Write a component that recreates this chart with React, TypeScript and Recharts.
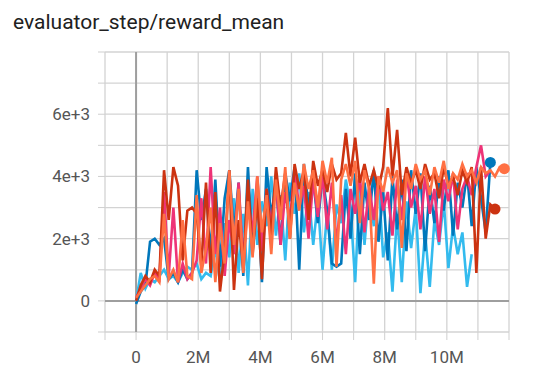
import { CartesianGrid, Line, LineChart, ReferenceLine, XAxis, YAxis } from "recharts";

// training steps shared by the runs (every 150k)
const steps = [
  0, 150000, 300000, 450000, 600000, 750000, 900000, 1050000, 1200000, 1350000,
  1500000, 1650000, 1800000, 1950000, 2100000, 2250000, 2400000, 2550000, 2700000, 2850000,
  3000000, 3150000, 3300000, 3450000, 3600000, 3750000, 3900000, 4050000, 4200000, 4350000,
  4500000, 4650000, 4800000, 4950000, 5100000, 5250000, 5400000, 5550000, 5700000, 5850000,
  6000000, 6150000, 6300000, 6450000, 6600000, 6750000, 6900000, 7050000, 7200000, 7350000,
  7500000, 7650000, 7800000, 7950000, 8100000, 8250000, 8400000, 8550000, 8700000, 8850000,
  9000000, 9150000, 9300000, 9450000, 9600000, 9750000, 9900000, 10050000, 10200000, 10350000,
  10500000, 10650000, 10800000, 10950000, 11100000, 11250000, 11400000, 11550000, 11700000, 11850000,
];

const runLightBlue = [
  0, 900, 400, 700, 600, 800, 1000, 700, 800, 600,
  900, 1100, 1000, 1200, 700, 900, 800, 1700, 600, 2500,
  1400, 3300, 900, 2800, 500, 3600, 1800, 3200, 2400, 4000,
  2100, 3400, 1300, 3800, 2800, 4100, 2200, 3500, 1800, 3200,
  1000, 2900, 1000, 3100, 2500, 3900, 3000, 600, 3800, 1800,
  3600, 2400, 3900, 1400, 2200, 300, 2800, 600, 3200, 1700,
  3000, 250, 2200, 450, 2600, 1800, 3200, 1050, 2400, 1500,
  2200, 450, 1500,
];

const runBlue = [
  -100, 300, 500, 1900, 2000, 1800, 2000, 700, 900, 600,
  1000, 700, 900, 4200, 2600, 3600, 1500, 3900, 1100, 3300,
  4200, 2200, 3800, 800, 4300, 1600, 3500, 600, 4300, 2700,
  3800, 1800, 4100, 3200, 4300, 1000, 4400, 3000, 3900, 2500,
  4000, 2900, 1200, 1100, 1200, 3600, 2000, 4100, 1500, 3800,
  2600, 4200, 1900, 3500, 1300, 4000, 2300, 3900, 1600, 4200,
  2800, 4100, 1600, 3700, 2500, 4000, 2900, 4200, 2100, 3800,
  3000, 4100, 2400, 4300, 3300, 2200, 4450,
];

const runPink = [
  100, 400, 700, 500, 900, 700, 3500, 800, 3000, 600,
  1200, 700, 900, 1300, 3300, 1200, 4300, 1500, 3000, 800,
  2600, 1500, 3800, 1200, 3200, 2200, 4000, 1600, 3600, 2400,
  3900, 1800, 3500, 2600, 4200, 3000, 3700, 2000, 3900, 2700,
  4100, 2300, 3800, 1800, 3400, 1500, 3600, 2800, 4000, 2200,
  3700, 2600, 4000, 2900, 3500, 2100, 3900, 2600, 4100, 3000,
  3700, 2300, 4000, 2800, 3600, 1900, 3900, 3200, 4100, 2300,
  3600, 4000, 3400, 4300, 5000, 4000, 4200,
];

const runRed = [
  0, 500, 800, 600, 1000, 800, 4200, 2600, 4300, 3700,
  1300, 2900, 3000, 2800, 1100, 3800, 900, 3500, 300, 1600,
  4200, 350, 2600, 1000, 3900, 1500, 3300, 700, 3600, 2100,
  4300, 3000, 4100, 2000, 4400, 3600, 4200, 2600, 4500, 3700,
  4200, 3500, 4400, 3900, 4100, 5400, 4000, 5250, 3800, 4400,
  3700, 4200, 3600, 4300, 6200, 4000, 5500, 3400, 4300, 3800,
  4200, 3600, 4400, 3900, 4100, 3300, 4300, 3700, 4000, 3400,
  4200, 3800, 4300, 900, 4300, 2000, 3100, 2950,
];

const runOrange = [
  100, 300, 500, 700, 800, 600, 2800, 700, 1000, 600,
  2600, 800, 700, 3400, 900, 1700, 3000, 600, 2500, 1200,
  4200, 1800, 3600, 900, 3200, 1400, 4000, 2200, 3400, 1500,
  3900, 2600, 4300, 2000, 3800, 2900, 4400, 3600, 4200, 3000,
  4500, 3800, 4600, 1100, 3900, 4400, 3700, 4500, 2500, 4200,
  3600, 550, 4000, 3500, 4300, 3800, 4200, 1700, 4100, 3600,
  4400, 3900, 4200, 3400, 4300, 3800, 4500, 3600, 4100, 3900,
  4400, 4000, 4200, 3800, 4300, 4100, 4200, 4000, 4300, 4250,
];

const xTicks = [-1000000, 0, 1000000, 2000000, 3000000, 4000000, 5000000, 6000000, 7000000, 8000000, 9000000, 10000000, 11000000, 12000000];
const xLabels: Record<number, string> = { 0: "0", 2000000: "2M", 4000000: "4M", 6000000: "6M", 8000000: "8M", 10000000: "10M" };
const yTicks = [-1000, 0, 1000, 2000, 3000, 4000, 5000, 6000, 7000, 8000];
const yLabels: Record<number, string> = { 0: "0", 2000: "2e+3", 4000: "4e+3", 6000: "6e+3" };

const data = steps.map((step, i) => ({
  step,
  lightBlue: runLightBlue[i],
  blue: runBlue[i],
  pink: runPink[i],
  red: runRed[i],
  orange: runOrange[i],
}));

const tickStyle = { fontFamily: "Roboto", fontSize: 17, fill: "#555" };

function endDot(len: number, color: string) {
  return (p: any) =>
    p.index === len - 1 ? (
      <circle key={`end-${color}`} cx={p.cx} cy={p.cy} r={5.5} fill={color} />
    ) : (
      <g key={`d-${color}-${p.index}`} />
    );
}

export default function App() {
  return (
    <div style={{ position: "absolute", left: 0, top: 0, width: 556, height: 374, background: "#fff" }}>
      <div style={{ position: "absolute", left: 13, top: 10, fontFamily: "Roboto", fontSize: 21, color: "#212121", whiteSpace: "nowrap" }}>
        evaluator_step/reward_mean
      </div>
      <LineChart width={556} height={374} data={data} margin={{ top: 52, right: 47, bottom: 0, left: 0 }}>
        <CartesianGrid stroke="#d3d3d3" strokeWidth={1.3} />
        <XAxis
          dataKey="step"
          type="number"
          domain={[-1000000, 12000000]}
          ticks={xTicks}
          interval={0}
          height={42}
          axisLine={false}
          tickSize={8}
          tickMargin={11}
          tickLine={{ stroke: "#cfcfcf" }}
          tick={tickStyle}
          tickFormatter={(v: number) => xLabels[v] ?? ""}
        />
        <YAxis
          type="number"
          domain={[-1000, 8000]}
          ticks={yTicks}
          interval={0}
          width={105}
          axisLine={false}
          tickSize={7}
          tickMargin={8}
          tickLine={{ stroke: "#cfcfcf" }}
          tick={tickStyle}
          tickFormatter={(v: number) => yLabels[v] ?? ""}
        />
        <ReferenceLine x={0} stroke="#9e9e9e" strokeWidth={2} />
        <ReferenceLine y={0} stroke="#9e9e9e" strokeWidth={2} />
        <Line dataKey="lightBlue" stroke="#33bbee" strokeWidth={2.6} dot={false} isAnimationActive={false} />
        <Line dataKey="blue" stroke="#0077bb" strokeWidth={2.6} dot={endDot(runBlue.length, "#0077bb")} isAnimationActive={false} />
        <Line dataKey="pink" stroke="#ee3377" strokeWidth={2.6} dot={false} isAnimationActive={false} />
        <Line dataKey="red" stroke="#cc3311" strokeWidth={2.6} dot={endDot(runRed.length, "#cc3311")} isAnimationActive={false} />
        <Line dataKey="orange" stroke="#ff7043" strokeWidth={2.6} dot={endDot(runOrange.length, "#ff7043")} isAnimationActive={false} />
      </LineChart>
    </div>
  );
}
